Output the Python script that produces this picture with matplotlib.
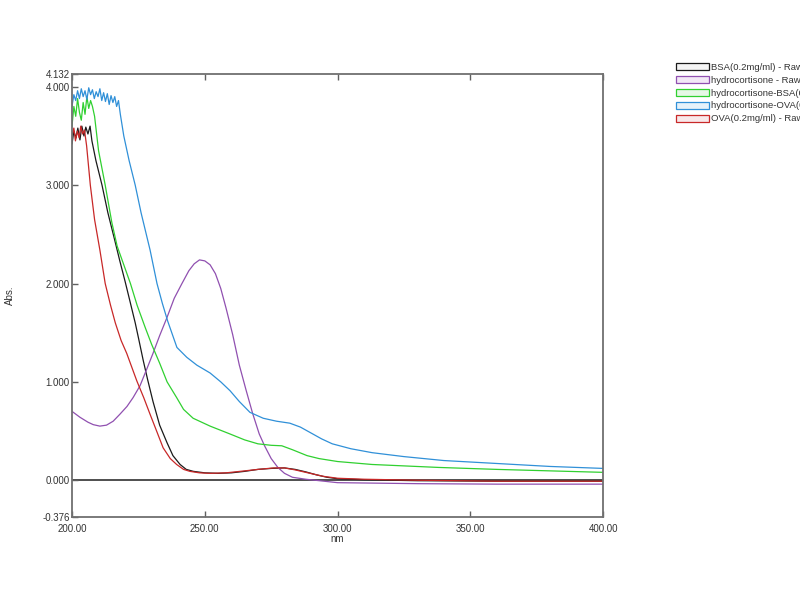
import matplotlib
matplotlib.use("Agg")
import matplotlib.pyplot as plt
from matplotlib.patches import Patch

plt.rcParams['font.family'] = ['Liberation Sans', 'DejaVu Sans']

# ---- data ----
bsa_nm = [200, 200.7, 201.5, 202.2, 203, 203.7, 204.5, 205.2, 206, 206.8, 207.5, 209, 211.3,
          213.5, 216, 218, 220, 222, 223.8, 225, 226.8, 228.5, 230.5, 233, 235.8, 238, 240.7,
          243, 245.7, 250, 255, 260, 265, 270, 275, 280, 284, 288, 292, 296, 300, 310, 330,
          360, 400]
bsa_abs = [3.42, 3.55, 3.48, 3.58, 3.46, 3.60, 3.50, 3.59, 3.52, 3.60, 3.45, 3.25, 3.00,
           2.72, 2.45, 2.23, 2.02, 1.80, 1.60, 1.45, 1.22, 1.02, 0.80, 0.56, 0.38, 0.25, 0.16,
           0.11, 0.09, 0.075, 0.07, 0.075, 0.09, 0.11, 0.12, 0.125, 0.11, 0.085, 0.055, 0.03,
           0.015, 0.005, -0.005, -0.01, -0.01]

hc_nm = [200, 203, 206, 208, 210.5, 213, 215.5, 218, 220.7, 223, 225.6, 228, 230.5, 233,
         235.7, 238.5, 241.4, 244, 246, 248, 250, 252, 254, 256, 258, 260.5, 263, 265.5,
         268, 270.5, 272.5, 275, 277.5, 280, 283, 288, 300, 330, 360, 400]
hc_abs = [0.70, 0.64, 0.59, 0.565, 0.55, 0.56, 0.60, 0.67, 0.75, 0.84, 0.96, 1.12, 1.29,
          1.47, 1.65, 1.85, 2.00, 2.13, 2.20, 2.24, 2.23, 2.19, 2.10, 1.95, 1.75, 1.48, 1.17,
          0.92, 0.68, 0.47, 0.35, 0.22, 0.13, 0.07, 0.03, 0.01, -0.025, -0.035, -0.04, -0.04]

hcbsa_nm = [200, 200.7, 201.4, 202.1, 202.8, 203.5, 204.2, 204.9, 205.6, 206.3, 207, 207.7,
            208.5, 210, 212.5, 215, 217, 222, 224.5, 227.6, 230, 233, 235.8, 239.4, 242,
            245.6, 252, 259.5, 265, 270, 275, 279, 283, 288.5, 293, 300, 313, 338, 360, 380, 400]
hcbsa_abs = [3.60, 3.80, 3.70, 3.88, 3.74, 3.66, 3.84, 3.72, 3.90, 3.78, 3.86, 3.80,
             3.70, 3.35, 3.00, 2.62, 2.38, 2.00, 1.78, 1.55, 1.38, 1.19, 1.00, 0.84, 0.72,
             0.63, 0.55, 0.47, 0.41, 0.37, 0.355, 0.35, 0.31, 0.25, 0.22, 0.19, 0.16, 0.13,
             0.11, 0.095, 0.08]

hcova_nm = [200, 200.7, 201.4, 202.1, 202.8, 203.5, 204.2, 204.9, 205.6, 206.3, 207, 207.7,
            208.4, 209.1, 209.8, 210.5, 211.2, 211.9, 212.6, 213.3, 214, 214.7, 215.4, 216.1,
            216.8, 217.5, 218.2, 219.5, 221.5, 223.8, 226, 229.4, 232, 234, 236, 239.5, 243.2,
            247, 252, 256, 259.5, 263, 267, 272, 277, 282, 286, 290, 294, 298, 305, 313, 325,
            340, 360, 380, 400]
hcova_abs = [3.80, 3.92, 3.86, 3.96, 3.88, 3.98, 3.90, 3.96, 3.87, 3.99, 3.92, 3.97,
             3.88, 3.95, 3.90, 3.98, 3.86, 3.94, 3.85, 3.93, 3.82, 3.91, 3.84, 3.90,
             3.80, 3.86, 3.72, 3.50, 3.25, 3.00, 2.72, 2.34, 2.00, 1.80, 1.62, 1.35, 1.25,
             1.17, 1.09, 1.00, 0.91, 0.80, 0.69, 0.63, 0.60, 0.58, 0.54, 0.48, 0.42, 0.37,
             0.32, 0.28, 0.24, 0.20, 0.17, 0.14, 0.12]

ova_nm = [200, 200.7, 201.3, 202, 202.7, 203.3, 204, 204.7, 205.5, 206.9, 208.5, 210.5,
          212.5, 214.5, 216.3, 218.5, 220.6, 222.5, 224.4, 227, 229.4, 232, 234.3, 237, 239.4,
          242, 244.4, 248, 252, 258, 265, 270, 276, 280, 284, 288, 294.5, 300, 310, 330, 360, 400]
ova_abs = [3.50, 3.58, 3.45, 3.55, 3.48, 3.60, 3.52, 3.56, 3.40, 3.00, 2.65, 2.34,
           2.00, 1.78, 1.60, 1.42, 1.29, 1.15, 1.01, 0.84, 0.67, 0.49, 0.33, 0.22, 0.16,
           0.11, 0.09, 0.075, 0.07, 0.075, 0.095, 0.11, 0.125, 0.125, 0.105, 0.08, 0.04,
           0.02, 0.01, 0.0, -0.01, -0.01]

labels = ["BSA(0.2mg/ml) - RawData", "hydrocortisone - RawData",
          "hydrocortisone-BSA(0.2mg/ml) - RawData", "hydrocortisone-OVA(0.2mg/ml) - RawData",
          "OVA(0.2mg/ml) - RawData"]
colors = ["#1a1a1a", "#9050b0", "#30d030", "#3090d8", "#c82828"]
fills = ["#f4f4f4", "#f2e8f6", "#e6f8e6", "#e6f2fa", "#f8e8ea"]

yticks = [-0.376, 0.0, 1.0, 2.0, 3.0, 4.0, 4.132]
xticks = [200, 250, 300, 350, 400]

# ---- figure ----
fig = plt.figure(figsize=(8, 6), dpi=100)
ax = fig.add_axes([0.09, 0.138, 0.664, 0.739])

series = [(bsa_nm, bsa_abs), (hc_nm, hc_abs), (hcbsa_nm, hcbsa_abs),
          (hcova_nm, hcova_abs), (ova_nm, ova_abs)]
ax.axhline(0, color="#303030", lw=1.2, zorder=1)
for (xs, ys), c in zip(series, colors):
    ax.plot(xs, ys, color=c, lw=0.9, zorder=2)

ax.set_xlim(200, 400)
ax.set_ylim(-0.376, 4.132)
ax.set_yticks(yticks)
ax.set_yticklabels([f"{v:.3f}" for v in yticks])
ax.set_xticks(xticks)
ax.set_xticklabels([f"{v:.2f}" for v in xticks])
ax.tick_params(axis="both", direction="in", length=4, width=1, color="#606060",
               labelsize=7, labelcolor="#333333")
ax.tick_params(axis="y", pad=1.5)
ax.tick_params(axis="x", pad=5, top=True)
for s in ax.spines.values():
    s.set_color("#707070")
    s.set_linewidth(1.3)

ax.set_xlabel("nm", fontsize=7, color="#333333", labelpad=0)
fig.text(0.013, 0.508, "Abs.", rotation=90, fontsize=7, color="#333333",
         ha="center", va="center")

handles = [Patch(facecolor=f, edgecolor=c, linewidth=0.9) for c, f in zip(colors, fills)]
fig.legend(handles, labels, loc="upper left", bbox_to_anchor=(0.84, 0.902),
           frameon=False, fontsize=6.8, handlelength=3.5, handleheight=0.8,
           handletextpad=0.2, labelspacing=0.42, borderaxespad=0, labelcolor="#333333")

fig.savefig("out.png", dpi=100)
